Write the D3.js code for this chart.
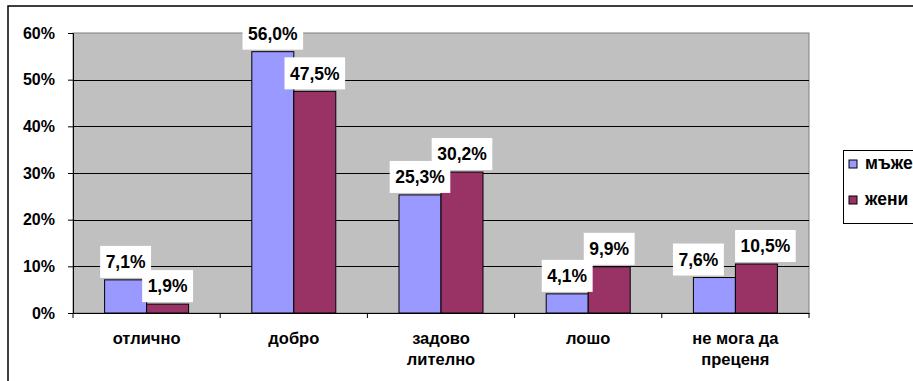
<!DOCTYPE html>
<html>
<head>
<meta charset="utf-8">
<script src="https://cdn.jsdelivr.net/npm/d3@7"></script>
<style>
  body { margin: 0; background: #fff; }
  svg { display: block; font-family: Arial, "Liberation Sans", sans-serif; font-weight: bold; }
</style>
</head>
<body>
<div id="chart"></div>
<script>
// data
var categories = ["отлично", "добро", "задово\nлително", "лошо", "не мога да\nпреценя"];
var seriesNames = ["мъже", "жени"];
var men = [7.1, 56.0, 25.3, 4.1, 7.6];
var women = [1.9, 47.5, 30.2, 9.9, 10.5];
var yTicks = [0, 10, 20, 30, 40, 50, 60];
var colors = ["#9999FF", "#993366"];

var W = 913, H = 381;
var plot = { left: 73, right: 809, top: 33, bottom: 313 };

var svg = d3.select("#chart").append("svg")
    .attr("width", W)
    .attr("height", H);

// outer chart frame (partly off the page)
svg.append("rect")
    .attr("x", 8).attr("y", 6)
    .attr("width", 1000).attr("height", 1000)
    .attr("fill", "#fff")
    .attr("stroke", "#000")
    .attr("stroke-width", 1.5);

var x = d3.scaleBand()
    .domain(categories)
    .range([plot.left, plot.right]);

var xs = d3.scaleBand()
    .domain(seriesNames)
    .range([(x.bandwidth() - 84) / 2, (x.bandwidth() + 84) / 2]);

var y = d3.scaleLinear()
    .domain([0, 60])
    .range([plot.bottom, plot.top]);

// plot area
svg.append("rect")
    .attr("x", plot.left).attr("y", plot.top)
    .attr("width", plot.right - plot.left)
    .attr("height", plot.bottom - plot.top)
    .attr("fill", "#C0C0C0")
    .attr("stroke", "#808080")
    .attr("stroke-width", 1);

// gridlines
svg.append("g").selectAll("line")
    .data(yTicks.slice(1, -1))
    .enter().append("line")
    .attr("x1", plot.left).attr("x2", plot.right)
    .attr("y1", function(d) { return Math.round(y(d)) + 0.5; })
    .attr("y2", function(d) { return Math.round(y(d)) + 0.5; })
    .attr("stroke", "#000")
    .attr("stroke-width", 1);

// y axis
var yAxis = svg.append("g")
    .attr("transform", "translate(" + plot.left + ",0)")
    .call(d3.axisLeft(y).tickValues(yTicks).tickSize(5).tickPadding(13)
        .tickFormat(function(d) { return d + "%"; }));
yAxis.select(".domain").attr("stroke", "#000");
yAxis.selectAll(".tick line").attr("stroke", "#000");
yAxis.selectAll("text")
    .attr("font-size", 16)
    .attr("font-family", "Arial, 'Liberation Sans', sans-serif")
    .attr("font-weight", "bold")
    .attr("fill", "#000");

// x axis
var xAxis = svg.append("g")
    .attr("transform", "translate(0," + plot.bottom + ")")
    .call(d3.axisBottom(x).tickSize(0).tickFormat(""));
xAxis.select(".domain").attr("stroke", "#000");

svg.append("g").selectAll("line")
    .data(categories.concat(["end"]))
    .enter().append("line")
    .attr("x1", function(d, i) { return i < categories.length ? x(d) : plot.right; })
    .attr("x2", function(d, i) { return i < categories.length ? x(d) : plot.right; })
    .attr("y1", plot.bottom).attr("y2", plot.bottom + 5)
    .attr("stroke", "#000");

// category labels (two lines where needed)
var catText = svg.append("g").selectAll("text")
    .data(categories)
    .enter().append("text")
    .attr("x", function(d) { return x(d) + x.bandwidth() / 2; })
    .attr("y", 344)
    .attr("text-anchor", "middle")
    .attr("font-size", 16.5)
    .attr("fill", "#000");
catText.each(function(d) {
    var lines = d.split("\n");
    var t = d3.select(this);
    lines.forEach(function(l, i) {
        t.append("tspan")
            .attr("x", x(d) + x.bandwidth() / 2)
            .attr("dy", i == 0 ? 0 : 21)
            .text(l);
    });
});

// bars
var rows = categories.map(function(c, i) {
    return { cat: c, idx: i, values: [{ s: seriesNames[0], v: men[i], k: 0, c: i }, { s: seriesNames[1], v: women[i], k: 1, c: i }] };
});

var groups = svg.append("g").selectAll("g")
    .data(rows)
    .enter().append("g")
    .attr("transform", function(d) { return "translate(" + x(d.cat) + ",0)"; });

groups.selectAll("rect")
    .data(function(d) { return d.values; })
    .enter().append("rect")
    .attr("x", function(d) { return xs(d.s); })
    .attr("y", function(d) { return y(d.v); })
    .attr("width", xs.bandwidth())
    .attr("height", function(d) { return plot.bottom - y(d.v); })
    .attr("fill", function(d) { return colors[d.k]; })
    .attr("stroke", "#000")
    .attr("stroke-width", 1);

// data labels with white boxes
// the last pair of labels was pulled apart in the original so they don't overlap
function labelNudge(d) {
    if (d.c == categories.length - 1) return d.k == 0 ? -16 : 9;
    return 0;
}

var labels = groups.selectAll("g.lab")
    .data(function(d) { return d.values; })
    .enter().append("g")
    .attr("class", "lab");

labels.each(function(d) {
    var g = d3.select(this);
    var cx = xs(d.s) + xs.bandwidth() / 2 + labelNudge(d);
    var txt = d.v.toFixed(1).replace(".", ",") + "%";
    var t = g.append("text")
        .attr("x", cx)
        .attr("text-anchor", "middle")
        .attr("font-size", 17.5)
        .attr("fill", "#000")
        .text(txt);
    var w = t.node().getComputedTextLength() + 11;
    var bottom = y(d.v) - 2, h = 32;
    g.insert("rect", "text")
        .attr("x", cx - w / 2)
        .attr("y", bottom - h)
        .attr("width", w)
        .attr("height", h)
        .attr("fill", "#fff");
    t.attr("y", bottom - h / 2 + 6.3);
});

// legend
var legend = svg.append("g").attr("transform", "translate(843,150)");
legend.append("rect")
    .attr("x", 0.5).attr("y", 0.5)
    .attr("width", 120).attr("height", 73)
    .attr("fill", "#fff")
    .attr("stroke", "#000");

var items = legend.selectAll("g.item")
    .data(seriesNames)
    .enter().append("g")
    .attr("class", "item")
    .attr("transform", function(d, i) { return "translate(0," + (14 + i * 36) + ")"; });
items.append("rect")
    .attr("x", 6).attr("y", -4)
    .attr("width", 8).attr("height", 8)
    .attr("fill", function(d, i) { return colors[i]; })
    .attr("stroke", "#000");
items.append("text")
    .attr("x", 22).attr("y", 5)
    .attr("font-size", 17.5)
    .attr("fill", "#000")
    .text(function(d) { return d; });
</script>
</body>
</html>
